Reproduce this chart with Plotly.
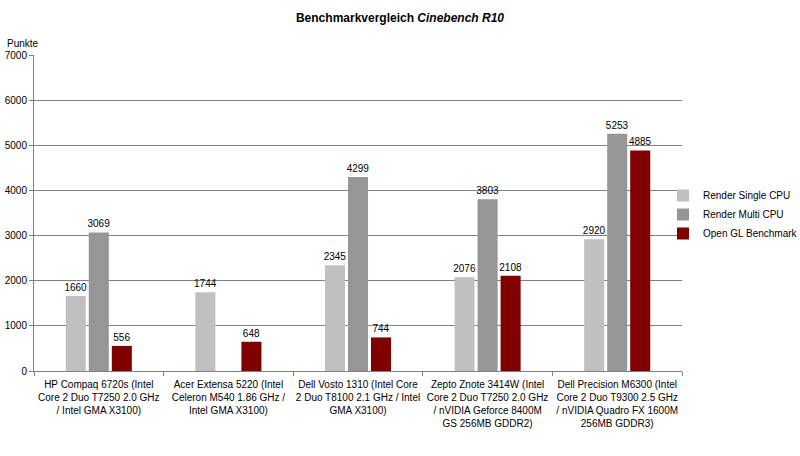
import plotly.graph_objects as go

categories = [
    "HP Compaq 6720s (Intel<br>Core 2 Duo T7250 2.0 GHz<br>/ Intel GMA X3100)",
    "Acer Extensa 5220 (Intel<br>Celeron M540 1.86 GHz /<br>Intel GMA X3100)",
    "Dell Vosto 1310 (Intel Core<br>2 Duo T8100 2.1 GHz / Intel<br>GMA X3100)",
    "Zepto Znote 3414W (Intel<br>Core 2 Duo T7250 2.0 GHz<br>/ nVIDIA Geforce 8400M<br>GS 256MB GDDR2)",
    "Dell Precision M6300 (Intel<br>Core 2 Duo T9300 2.5 GHz<br>/ nVIDIA Quadro FX 1600M<br>256MB GDDR3)",
]
series_names = ["Render Single CPU", "Render Multi CPU", "Open GL Benchmark"]
render_single = [1660, 1744, 2345, 2076, 2920]
render_multi = [3069, None, 4299, 3803, 5253]
open_gl = [556, 648, 744, 2108, 4885]
colors = ["#C0C0C0", "#969696", "#800000"]
y_ticks = [0, 1000, 2000, 3000, 4000, 5000, 6000, 7000]

font = "Liberation Sans, Arial, sans-serif"
W, H = 800, 456
L, R, T, B = 34, 118, 55, 85
PW, PH = W - L - R, H - T - B

fig = go.Figure()
for name, vals, col in zip(series_names, [render_single, render_multi, open_gl], colors):
    fig.add_trace(go.Bar(
        x=categories, y=vals, name=name, marker=dict(color=col, line=dict(width=0)),
        text=[("" if v is None else str(v)) for v in vals],
        textposition="outside", constraintext="none",
        textfont=dict(size=10, color="#000000", family=font),
        cliponaxis=False,
    ))

legend_left = 663
legend_top = 181
fig.update_layout(
    width=W, height=H,
    margin=dict(l=L, r=R, t=T, b=B, autoexpand=False),
    paper_bgcolor="white", plot_bgcolor="white",
    barmode="group", bargap=0.467, bargroupgap=0.13,
    font=dict(family=font, size=10, color="#000000"),
    title=dict(text="<b>Benchmarkvergleich <i>Cinebench R10</i></b>", x=0.5, xanchor="center",
               xref="container", yref="container",
               y=1 - 18 / H, yanchor="middle", font=dict(size=12, family=font)),
    legend=dict(x=(legend_left - L) / PW, xanchor="left", y=1 - (legend_top - T) / PH, yanchor="top",
                font=dict(size=10), itemwidth=30, tracegroupgap=0,
                bgcolor="rgba(0,0,0,0)"),
    showlegend=True,
)
fig.update_xaxes(
    showline=True, linecolor="#808080", linewidth=1,
    ticks="outside", ticklen=4, tickcolor="#808080",
    tickson="boundaries", showgrid=False, tickangle=0, automargin=False,
    ticklabelstandoff=4,
    tickfont=dict(size=10), fixedrange=True,
)
fig.update_yaxes(
    range=[0, 7000], tickvals=y_ticks, showline=True, linecolor="#808080", linewidth=1,
    ticks="outside", ticklen=4, tickcolor="#808080", automargin=False,
    showgrid=True, gridcolor="#808080", gridwidth=1, zeroline=False,
    tickfont=dict(size=10),
)
fig.add_annotation(text="Punkte", xref="paper", yref="paper", x=-(L - 5) / PW, y=1 + 12 / PH,
                   xanchor="left", yanchor="middle", showarrow=False, font=dict(size=10))
fig.write_html("out.html", config={"displayModeBar": False},
               post_script="document.body.style.margin='0';document.body.style.overflow='hidden';")
